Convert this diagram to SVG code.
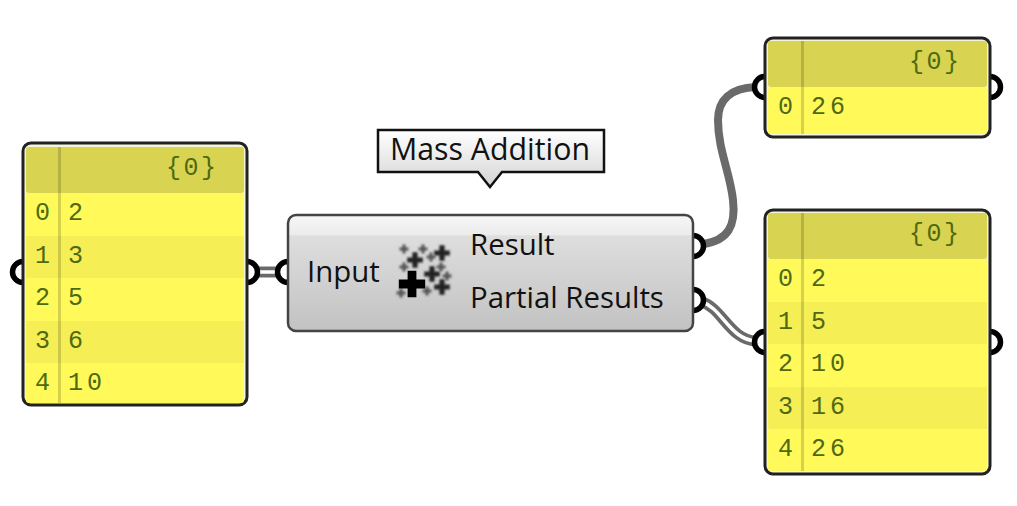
<svg xmlns="http://www.w3.org/2000/svg" width="1017" height="506" viewBox="0 0 1017 506">
<defs>
<linearGradient id="cg" x1="0" y1="0" x2="0" y2="1"><stop offset="0" stop-color="#f6f6f6"/><stop offset="0.17" stop-color="#ececec"/><stop offset="0.18" stop-color="#dedede"/><stop offset="1" stop-color="#c2c2c2"/></linearGradient>
<linearGradient id="tg" x1="0" y1="0" x2="0" y2="1"><stop offset="0" stop-color="#ffffff"/><stop offset="1" stop-color="#d4d4d4"/></linearGradient>
<filter id="soft" x="-30%" y="-30%" width="160%" height="160%"><feGaussianBlur stdDeviation="0.9"/></filter>
<path id="p" d="M-2-6H2V-2H6V2H2V6H-2V2H-6V-2H-2Z"/>
</defs>
<style>
.frame{fill:#f4f4d8;stroke:#222;stroke-width:3}
.head{fill:#d8d350}
.row{fill:#fffa5a}
.alt{fill:#f5ee55}
.div{fill:#000;opacity:.16}
.sock{fill:#fff;stroke:#000;stroke-width:5.5}
.t{font-family:"Liberation Mono",monospace;font-size:25px;fill:#4d6a12;letter-spacing:4px}
.b{letter-spacing:2.5px}
.l{font-family:"Open Sans","Noto Sans",sans-serif;font-size:29.4px;fill:#111}
.m{font-size:30.3px}
.w1{fill:none;stroke:#6a6a6a;stroke-width:8}
.w2o{fill:none;stroke:#6a6a6a;stroke-width:11}
.w2i{fill:none;stroke:#fff;stroke-width:3.5}
</style>
<g id="connectors">
<path class="w2o" d="M255 272H282"/><path class="w2i" d="M255 272H282"/>
<path class="w1" d="M704 244C728 240 736 226 733 200C730 172 718 150 718 120C718 100 730 88 756 87"/>
<path class="w2o" d="M702 302C722 308 730 340 756 341"/><path class="w2i" d="M702 302C722 308 730 340 756 341"/>
</g>
<g id="panel-left">
<circle class="sock" cx="23" cy="272" r="10.5"/><circle class="sock" cx="247" cy="272" r="10.5"/>
<rect class="frame" x="23" y="143" width="224" height="262" rx="8"/>
<rect class="head" x="26" y="147" width="218" height="46" rx="3"/>
<rect class="row" x="26" y="193" width="218" height="43"/><rect class="alt" x="26" y="236" width="218" height="42"/><rect class="row" x="26" y="278" width="218" height="43"/><rect class="alt" x="26" y="321" width="218" height="42"/><rect class="row" x="26" y="363" width="218" height="40" rx="3"/>
<rect class="div" x="58" y="147" width="3" height="256"/>
<text class="t b" x="166" y="175">{0}</text>
<text class="t" x="35" y="220">0</text><text class="t" x="68" y="220">2</text>
<text class="t" x="35" y="263">1</text><text class="t" x="68" y="263">3</text>
<text class="t" x="35" y="305">2</text><text class="t" x="68" y="305">5</text>
<text class="t" x="35" y="348">3</text><text class="t" x="68" y="348">6</text>
<text class="t" x="35" y="390">4</text><text class="t" x="68" y="390">10</text>
</g>
<g id="tooltip">
<path d="M378 130H604V172H502L490 187L478 172H378Z" fill="url(#tg)" stroke="#111" stroke-width="2.5"/>
<text class="l m" x="390" y="160">Mass Addition</text>
</g>
<g id="component">
<circle class="sock" cx="288" cy="272" r="10.5"/><circle class="sock" cx="693" cy="246" r="10.5"/><circle class="sock" cx="693" cy="300" r="10.5"/>
<rect x="288" y="215" width="405" height="116" rx="8" fill="url(#cg)" stroke="#444" stroke-width="2.5"/>
<text class="l" x="307" y="282">Input</text>
<text class="l" x="470" y="255">Result</text>
<text class="l" x="470" y="308">Partial Results</text>
<g id="icon">
<g filter="url(#soft)" fill="#555"><use href="#p" transform="translate(404,249) scale(.75)"/><use href="#p" transform="translate(423,249) scale(.75)"/><use href="#p" transform="translate(431,257) scale(.75)"/><use href="#p" transform="translate(404,267) scale(.75)"/><use href="#p" transform="translate(441,267) scale(.75)"/><use href="#p" transform="translate(447,276) scale(.75)"/><use href="#p" transform="translate(401,293) scale(.75)"/><use href="#p" transform="translate(427,291) scale(.75)"/></g>
<g fill="#222"><use href="#p" filter="url(#soft)" transform="translate(442,253) scale(1.3)"/><use href="#p" filter="url(#soft)" transform="translate(415,260) scale(1.3)"/><use href="#p" filter="url(#soft)" transform="translate(432,274) scale(1.3)"/><use href="#p" filter="url(#soft)" transform="translate(442,287) scale(1.3)"/></g>
<use href="#p" fill="#000" transform="translate(412,284) scale(2.2)"/>
</g>
</g>
<g id="panel-top">
<circle class="sock" cx="765" cy="87" r="10.5"/><circle class="sock" cx="990" cy="87" r="10.5"/>
<rect class="frame" x="765" y="38" width="225" height="99" rx="8"/>
<rect class="head" x="768" y="41" width="219" height="46" rx="3"/>
<rect class="row" x="768" y="87" width="219" height="47" rx="3"/>
<rect class="div" x="801" y="41" width="3" height="93"/>
<text class="t b" x="909" y="69">{0}</text>
<text class="t" x="778" y="114">0</text><text class="t" x="811" y="114">26</text>
</g>
<g id="panel-bottom">
<circle class="sock" cx="765" cy="342" r="10.5"/><circle class="sock" cx="990" cy="342" r="10.5"/>
<rect class="frame" x="765" y="210" width="225" height="264" rx="8"/>
<rect class="head" x="768" y="213" width="219" height="46" rx="3"/>
<rect class="row" x="768" y="259" width="219" height="43"/><rect class="alt" x="768" y="302" width="219" height="42"/><rect class="row" x="768" y="344" width="219" height="43"/><rect class="alt" x="768" y="387" width="219" height="42"/><rect class="row" x="768" y="429" width="219" height="42" rx="3"/>
<rect class="div" x="801" y="213" width="3" height="258"/>
<text class="t b" x="909" y="241">{0}</text>
<text class="t" x="778" y="286">0</text><text class="t" x="811" y="286">2</text>
<text class="t" x="778" y="329">1</text><text class="t" x="811" y="329">5</text>
<text class="t" x="778" y="371">2</text><text class="t" x="811" y="371">10</text>
<text class="t" x="778" y="414">3</text><text class="t" x="811" y="414">16</text>
<text class="t" x="778" y="456">4</text><text class="t" x="811" y="456">26</text>
</g>
</svg>
